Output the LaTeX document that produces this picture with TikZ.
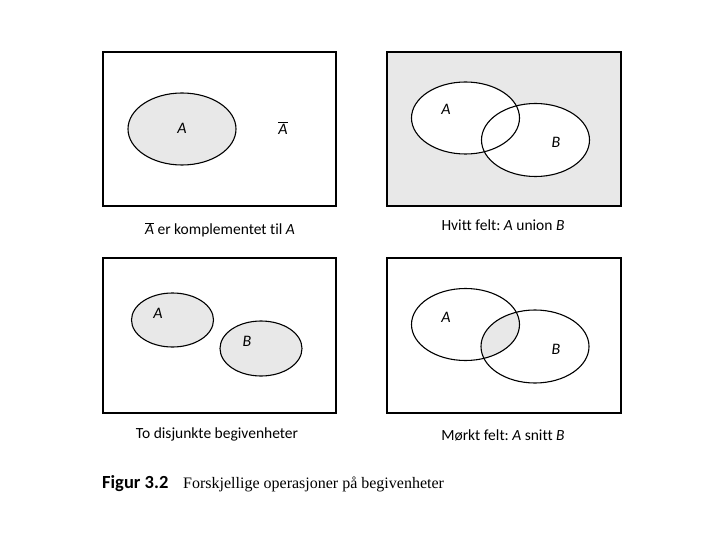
\documentclass[tikz,border=0pt]{standalone}
\usepackage{fontspec}
\setmainfont[Ligatures=NoCommon]{Carlito}
\newfontfamily\serifcap{Liberation Serif}
\definecolor{lightshade}{HTML}{E8E8E8}
\begin{document}
\begin{tikzpicture}[x=1pt,y=-1pt,
  panel/.style={draw=black,line width=1.3pt},
  ev/.style={draw=black,line width=1.1pt},
  lbl/.style={font=\fontsize{16}{18}\selectfont\itshape,inner sep=0pt},
  captext/.style={font=\fontsize{15.5}{18}\selectfont,inner sep=0pt,anchor=base}]
\useasboundingbox (0,0) rectangle (720,540);
% Panel 1
\node[panel,minimum width=233pt,minimum height=154pt,inner sep=0pt] (p1) at (219.5,129) {};
\draw[ev,fill=lightshade] (182,129) ellipse [x radius=54,y radius=36];
\node[lbl] (a1) at (182,128) {A};
\node[lbl] (ac) at (283,128) {$\overline{\hbox{\itshape A}}$};
\node[captext] (c1) at (220,235) {$\overline{\hbox{\itshape A}}$ er komplementet til \textit{A}};
% Panel 2
\node[panel,fill=lightshade,minimum width=234pt,minimum height=154pt,inner sep=0pt] (p2) at (504,129) {};
\fill[white] (465.5,118) ellipse [x radius=54,y radius=36];
\fill[white] (535.5,140) ellipse [x radius=54,y radius=36.5];
\draw[ev] (465.5,118) ellipse [x radius=54,y radius=36];
\draw[ev] (535.5,140) ellipse [x radius=54,y radius=36.5];
\node[lbl] (a2) at (446,109) {A};
\node[lbl] (b2) at (556,142) {B};
\node[captext] (c2) at (503,230) {Hvitt felt:\ \textit{A} union \textit{B}};
% Panel 3
\node[panel,minimum width=233pt,minimum height=155pt,inner sep=0pt] (p3) at (219.5,335.5) {};
\draw[ev,fill=lightshade] (172.5,320) ellipse [x radius=41,y radius=27];
\draw[ev,fill=lightshade] (261,348.5) ellipse [x radius=41,y radius=27.5];
\node[lbl] (a3) at (158,313) {A};
\node[lbl] (b3) at (247,341) {B};
\node[captext] (c3) at (217,438) {To disjunkte begivenheter};
% Panel 4
\node[panel,minimum width=234pt,minimum height=155pt,inner sep=0pt] (p4) at (504,335.5) {};
\begin{scope}
\clip (465.5,324.5) ellipse [x radius=54,y radius=36];
\fill[lightshade] (535,346.5) ellipse [x radius=54,y radius=36.5];
\end{scope}
\draw[ev] (465.5,324.5) ellipse [x radius=54,y radius=36];
\draw[ev] (535,346.5) ellipse [x radius=54,y radius=36.5];
\node[lbl] (a4) at (446,317) {A};
\node[lbl] (b4) at (556,349) {B};
\node[captext] (c4) at (503,440) {Mørkt felt:\ \textit{A} snitt \textit{B}};
% Figure caption
\node[anchor=base west,inner sep=0pt,font=\fontsize{18.5}{22}\selectfont\bfseries] (fig) at (102,488) {Figur 3.2};
\node[anchor=base west,inner sep=0pt,font=\fontsize{16}{18}\selectfont\serifcap] (figt) at (183,488) {Forskjellige operasjoner på begivenheter};
\end{tikzpicture}
\end{document}
